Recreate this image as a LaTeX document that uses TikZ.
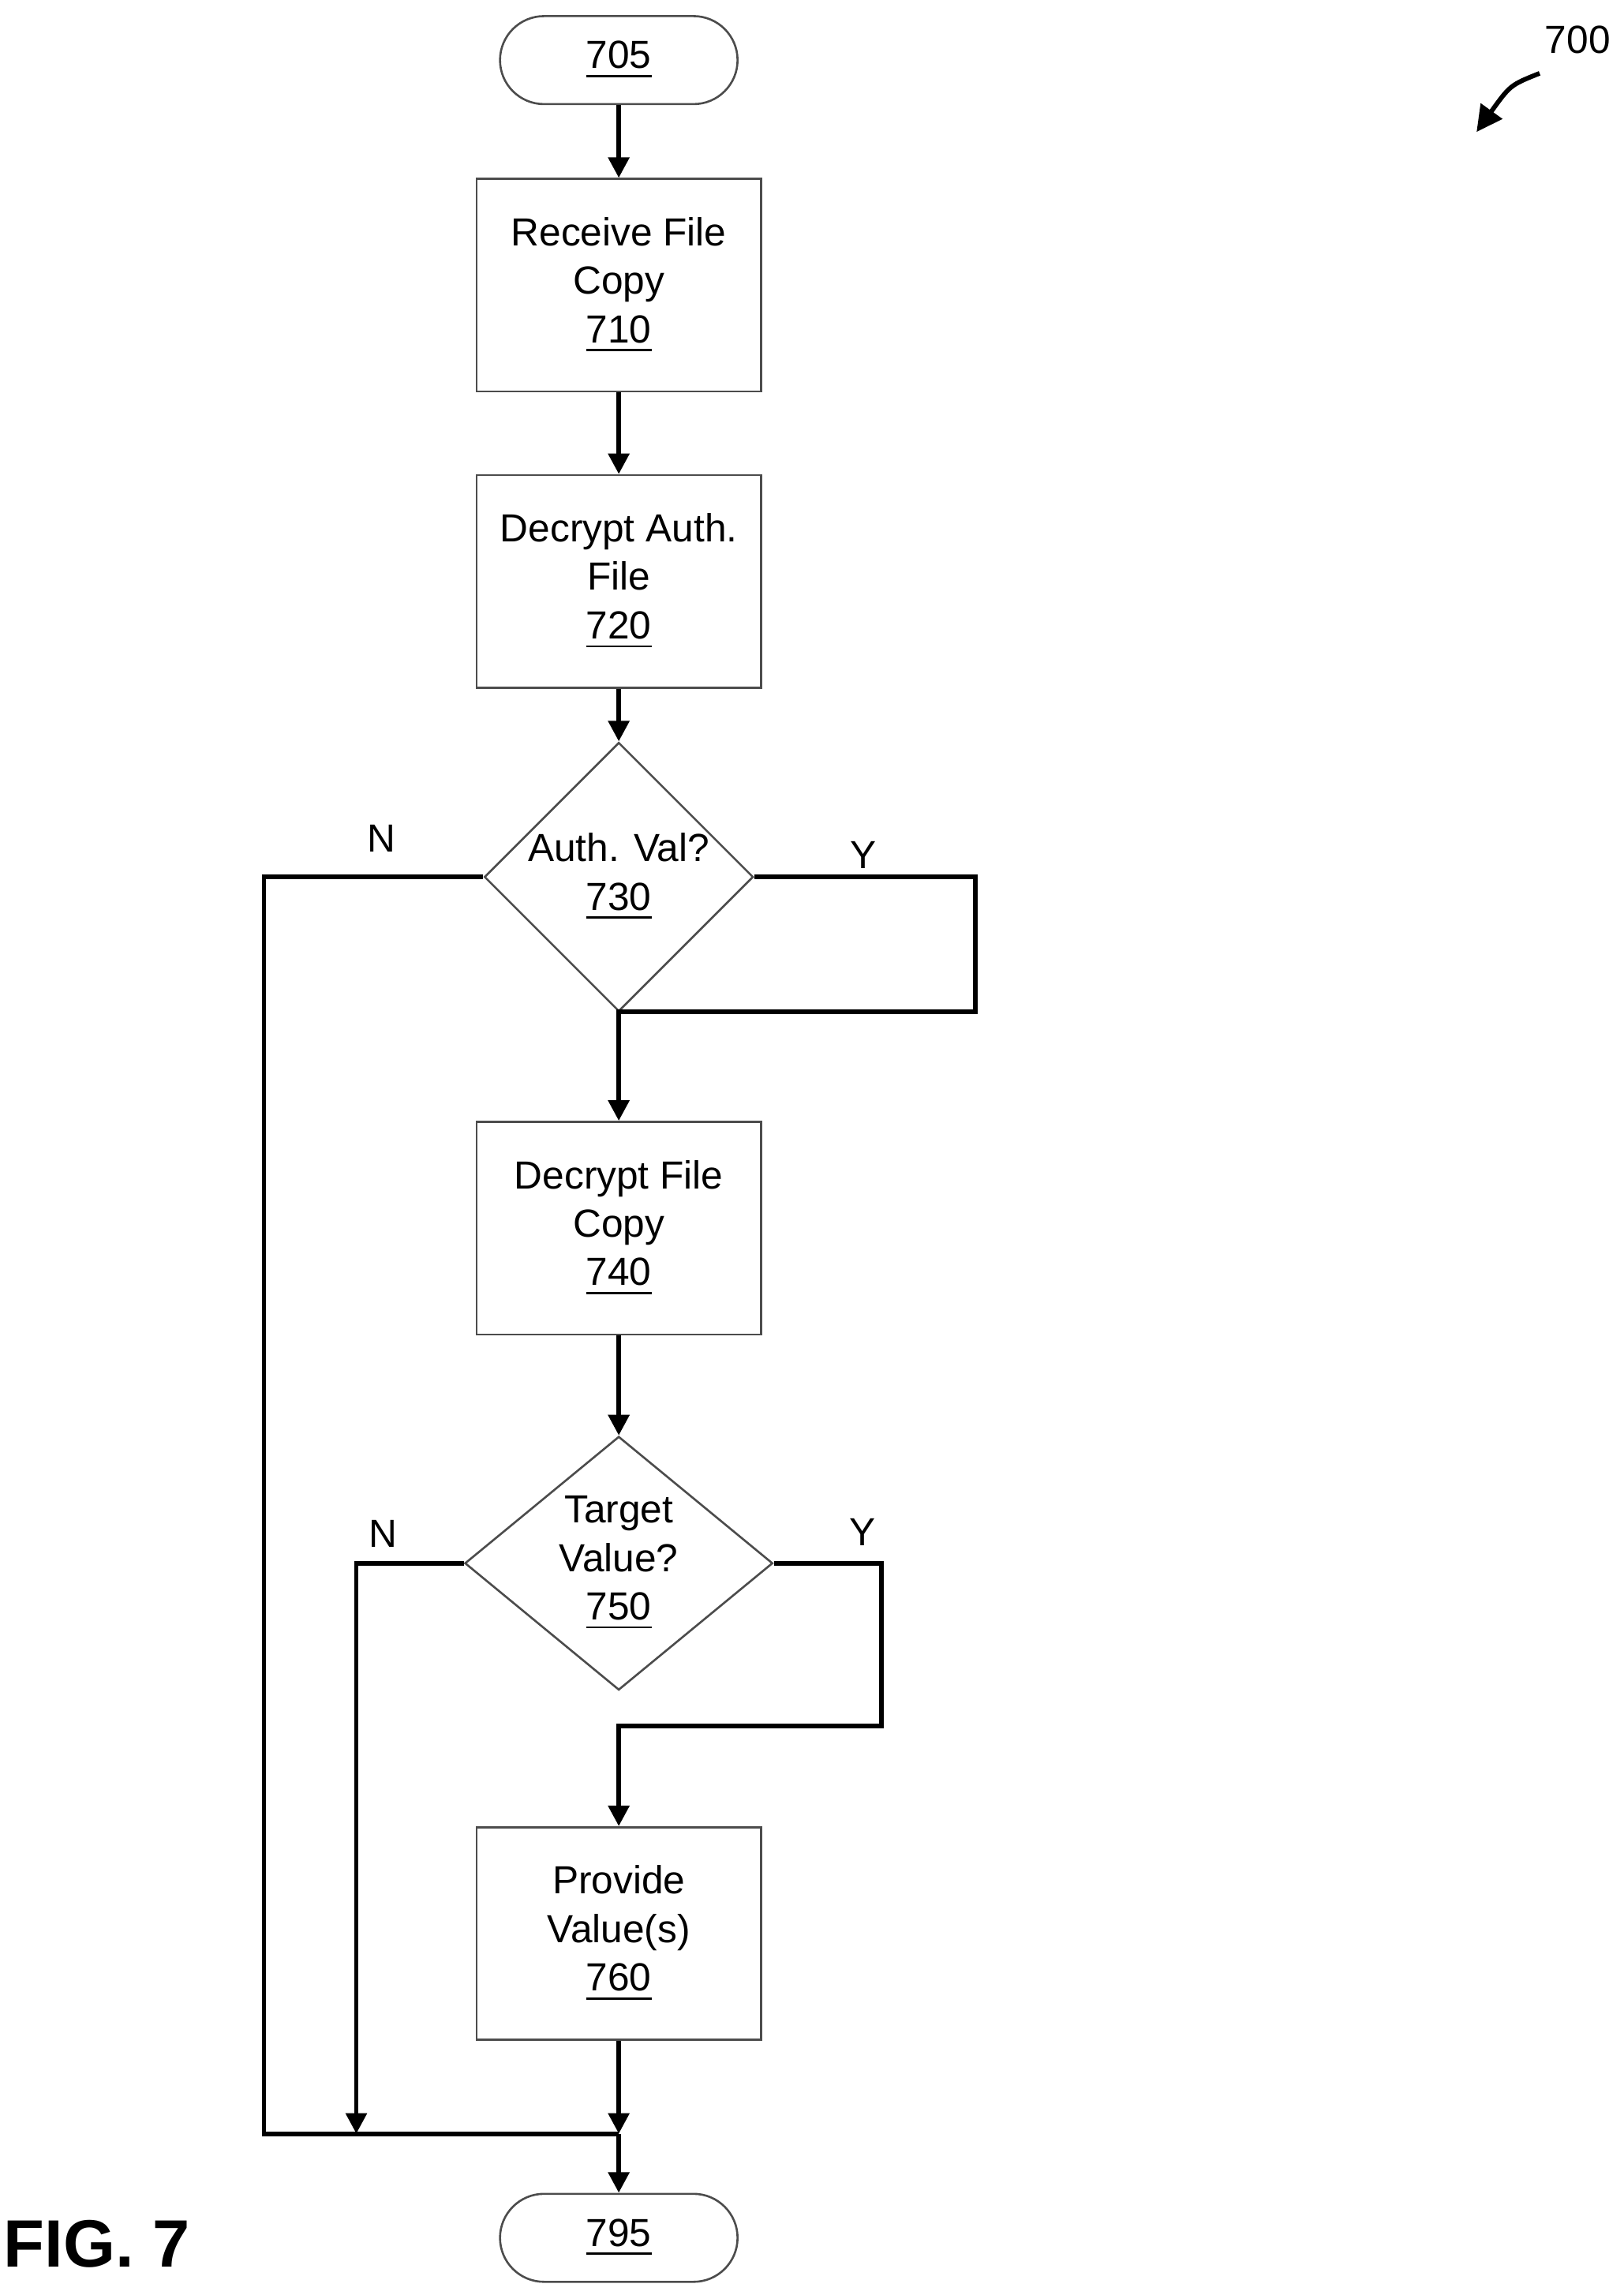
\documentclass[tikz,border=0pt]{standalone}
\usepackage{fontspec}
\setmainfont{Liberation Sans}
\usetikzlibrary{positioning,shapes,arrows.meta}
\begin{document}
\begin{tikzpicture}[
  box/.style={draw=black!70, line width=0.4pt, minimum width=1.94cm, minimum height=1.45cm, align=center, font=\fontsize{7.6}{9.4}\selectfont},
  term/.style={draw=black!70, line width=0.4pt, rounded corners=0.3cm, minimum width=1.62cm, minimum height=0.6cm, font=\fontsize{7.6}{9.4}\selectfont},
  dec/.style={draw=black!70, line width=0.4pt, diamond, inner sep=0pt, align=center, font=\fontsize{7.6}{9.4}\selectfont},
  flow/.style={line width=0.9pt, -{Triangle[length=4pt,width=4pt]}},
  line/.style={line width=0.9pt},
  lab/.style={font=\fontsize{7.6}{9}\selectfont}]
				\useasboundingbox (0,0) rectangle (11.07,-15.65);
				\node[term] (start) at (4.22,-0.41) {\underline{705}};
				\node[box] (recv) at (4.22,-1.945) {Receive File\\Copy\\\underline{710}};
				\node[box] (dauth) at (4.22,-3.965) {Decrypt Auth.\\File\\\underline{720}};
				\node[dec, minimum width=1.6cm, minimum height=1.2cm] (auth) at (4.22,-5.98) {Auth. Val?\\\underline{730}};
				\node[box] (dfile) at (4.22,-8.375) {Decrypt File\\Copy\\\underline{740}};
				\node[dec, minimum width=2.1cm, minimum height=1.56cm] (target) at (4.22,-10.66) {Target\\Value?\\\underline{750}};
				\node[box] (prov) at (4.22,-13.185) {Provide\\Value(s)\\\underline{760}};
				\node[term] (stop) at (4.22,-15.26) {\underline{795}};
				\coordinate (join) at (4.22,-14.55);
				\coordinate (join2) at (2.43,-14.55);
				\draw[flow] (start) -- (recv);
				\draw[flow] (recv) -- (dauth);
				\draw[flow] (dauth) -- (auth);
				\draw[flow] (auth.east) -- (6.65,-5.98) -- (6.65,-6.9) -- (4.22,-6.9) -- (dfile.north);
				\draw[flow] (dfile) -- (target);
				\draw[flow] (target.east) -- (6.01,-10.66) -- (6.01,-11.77) -- (4.22,-11.77) -- (prov.north);
				\draw[line] (auth.west) -- (1.8,-5.98) -- (1.8,-14.55) -- (join);
				\draw[flow] (target.west) -- (2.43,-10.66) -- (join2);
				\draw[flow] (prov) -- (join);
				\draw[flow] (join) -- (stop);
				\node[lab] (n1) at (2.6,-5.72) {N};
				\node[lab] (y1) at (5.89,-5.83) {Y};
				\node[lab] (n2) at (2.61,-10.46) {N};
				\node[lab] (y2) at (5.88,-10.45) {Y};
				\node[lab] (fig) at (10.76,-0.27) {700};
				\coordinate (tail) at (10.5,-0.5);
				\coordinate (tip) at (10.07,-0.9);
				\draw[line width=0.9pt, -{Triangle[length=5pt,width=5pt]}] (tail) .. controls (10.3,-0.58) .. (tip);
				\node[font=\fontsize{13}{15}\selectfont\bfseries\rmfamily] (title) at (0.66,-15.3) {FIG. 7};
				\end{tikzpicture}
\end{document}
